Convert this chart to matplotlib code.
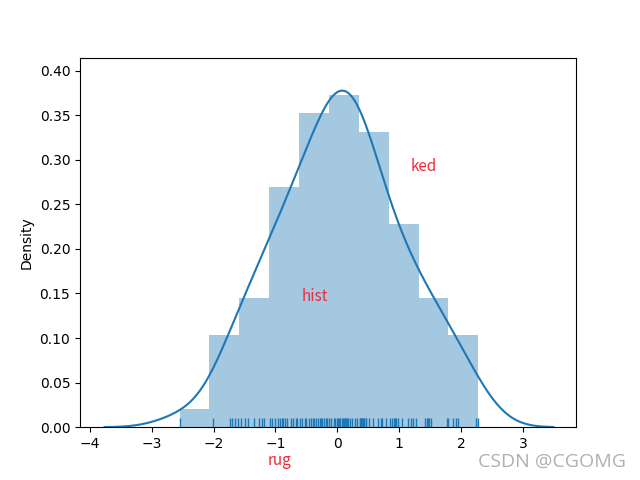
import matplotlib
matplotlib.use("Agg")
import matplotlib.pyplot as plt
import numpy as np

# sample values (100 points)
values = [
    -2.55,
    -2.01, -1.74, -1.71, -1.66, -1.61,
    -1.55, -1.49, -1.44, -1.35, -1.27, -1.22, -1.19,
    -1.09, -1.05, -1.01, -0.96, -0.93, -0.90, -0.87, -0.85, -0.82, -0.75, -0.71, -0.67, -0.65,
    -0.605, -0.567, -0.524, -0.50, -0.46, -0.43, -0.40, -0.37, -0.34, -0.31, -0.28, -0.26,
    -0.24, -0.21, -0.18, -0.16, -0.14,
    -0.10, -0.06, -0.03, -0.01, 0.01, 0.03, 0.05, 0.07, 0.09, 0.11, 0.12, 0.14, 0.16, 0.18,
    0.21, 0.24, 0.28, 0.32,
    0.36, 0.37, 0.38, 0.39, 0.40, 0.41, 0.43, 0.44, 0.46, 0.47, 0.52, 0.58, 0.66, 0.70, 0.73, 0.78,
    0.85, 0.88, 0.91, 0.93, 0.947, 0.985, 1.04, 1.146, 1.185, 1.227, 1.28,
    1.42, 1.444, 1.46, 1.49, 1.513, 1.767, 1.79,
    1.874, 1.912, 1.954, 2.24, 2.28,
]
n_bins = 10

data = np.asarray(values, dtype=float)

# gaussian kde, scott bandwidth, cut=3
bw = data.std(ddof=1) * len(data) ** (-1 / 5)
grid = np.linspace(data.min() - 3 * bw, data.max() + 3 * bw, 200)
dens = np.exp(-0.5 * ((grid[:, None] - data[None, :]) / bw) ** 2).sum(axis=1)
dens /= len(data) * bw * np.sqrt(2 * np.pi)

fig, ax = plt.subplots(figsize=(6.4, 4.8), dpi=100)
ax.hist(data, bins=n_bins, density=True, color="C0", alpha=0.4)
ax.plot(grid, dens, color="C0", lw=1.5)
ax.vlines(data, 0, 0.025, transform=ax.get_xaxis_transform(), color="C0", lw=1)

ax.set_xlim(-4.16, 3.86)
ax.set_ylim(0, 0.4146)
ax.set_ylabel("Density")

red = "#ee2d3a"
cjk = ["Noto Sans CJK SC", "DejaVu Sans"]
ax.text(1.40, 0.293, "ked", color=red, ha="center", va="center", fontsize=11, family=cjk)
ax.text(-0.36, 0.147, "hist", color=red, ha="center", va="center", fontsize=11, family=cjk)
ax.text(-0.94, -0.0425, "rug", color=red, ha="center", va="baseline", fontsize=11,
        family=cjk)

fig.text(0.978, 0.038, "CSDN @CGOMG", color="#b0b0b0", ha="right", va="center",
         fontsize=14, family=["Open Sans", "DejaVu Sans"])

fig.savefig("out.png", dpi=100)
